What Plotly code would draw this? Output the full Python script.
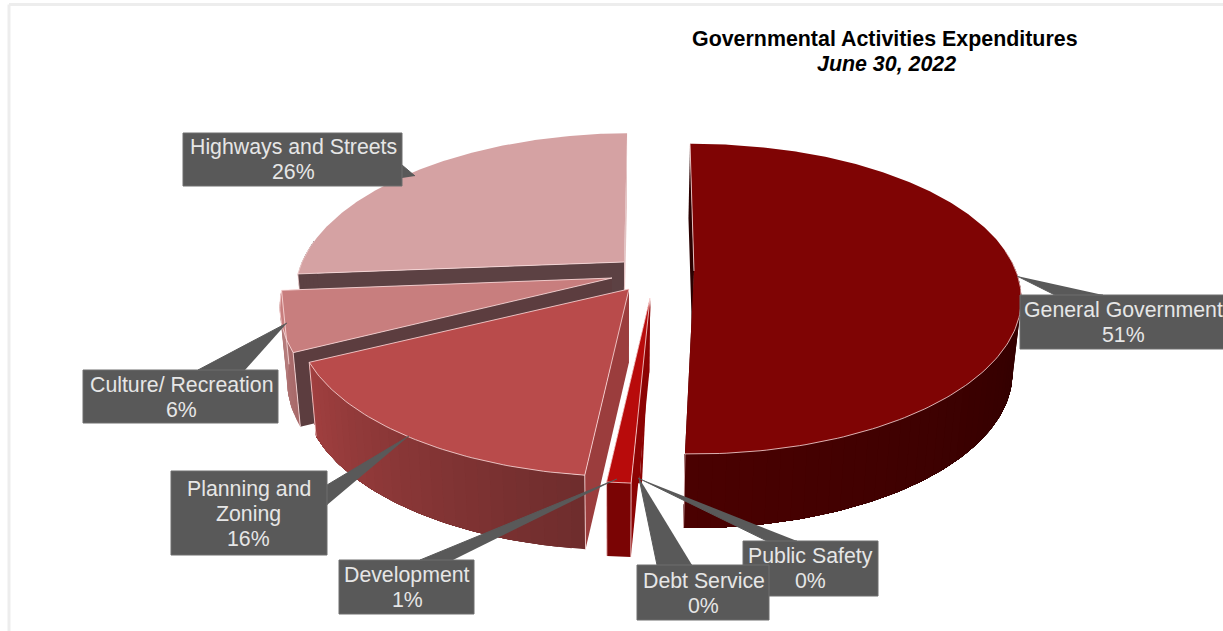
import math
import plotly.graph_objects as go

# Expenditure data, clockwise from twelve o'clock
CATEGORIES = ["General Government", "Public Safety", "Debt Service", "Development",
              "Planning and Zoning", "Culture/ Recreation", "Highways and Streets"]
SHARES = [50.6, 0.1, 0.3, 1.0, 16.0, 6.0, 26.0]
LABEL_LINES = {"Planning and Zoning": ["Planning and", "Zoning"]}

TITLE = "<b>Governmental Activities Expenditures</b>"
SUBTITLE = "<b><i>June 30, 2022</i></b>"

# Pie geometry and projection
START_ANGLE = -0.84
RADIUS_X, RADIUS_Y = 322, 152
PERSPECTIVE = 0.18
DEPTH = 74
VANISH_X, DEPTH_SHRINK = 620, 0.022
PIE_CENTER = (650, 285)

# Exploded offset of each slice from the pie centre
PULL = {
    "General Government": (44, -14),
    "Public Safety": (1, 13),
    "Debt Service": (1, 13),
    "Development": (0, 13),
    "Planning and Zoning": (-21, 4),
    "Culture/ Recreation": (-38, -7),
    "Highways and Streets": (-26, -23),
}
# Per-slice foreshortening: (x scale, y scale, horizontal shear)
WARP = {
    "General Government": (1.0, 0.987, 0.0),
    "Planning and Zoning": (1.018, 1.012, 0.0),
    "Culture/ Recreation": (1.015, 1.03, 0.0),
    "Highways and Streets": (1.0, 1.0, -0.055),
}

# Slice colours: top face, outer wall at either end of the front arc, radial walls
STYLE = {
    "General Government": dict(top="#7f0404", outer=("#2c0000", "#4a0101"), start="#2a0000", end="#4a0101"),
    "Public Safety": dict(top="#8c0303"),
    "Debt Service": dict(top="#8c0303"),
    "Development": dict(top="#b80b0b", outer=("#7a0404", "#7a0404"), start="#8c0303", end="#8c0303"),
    "Planning and Zoning": dict(top="#b94b4b", outer=("#6f2d2d", "#a03f3f"), start="#9b3d3d", end="#9b3d3d"),
    "Culture/ Recreation": dict(top="#c87e7e", outer=("#a86a6a", "#b67e7e"), start="#5c3d3f", end="#b67e7e"),
    "Highways and Streets": dict(top="#d5a2a3", outer=("#5c4143", "#5c4143"), start="#5c4143", end="#e3c3c3"),
}
EDGE = "rgba(255,226,226,0.78)"

# Callout boxes (left, top, right, bottom) and pointers (tip, base point, base point)
CALLOUTS = {
    "Highways and Streets": ((183, 133, 402, 186), ((415, 176), (402, 165), (402, 178))),
    "Culture/ Recreation": ((83, 370, 278, 423), ((287, 323), (198, 370), (245, 370))),
    "Planning and Zoning": ((171, 471, 327, 555), ((409, 436), (327, 485), (327, 505))),
    "Development": ((339, 560, 474, 614), ((617, 479), (420, 560), (453, 560))),
    "Public Safety": ((743, 541, 878, 596), ((638, 478), (767, 541), (797, 541))),
    "Debt Service": ((637, 565, 769, 620), ((639, 478), (657, 565), (692, 565))),
    "General Government": ((1020, 295, 1240, 349), ((1017, 276), (1055, 295), (1103, 295))),
}
# Horizontal centre and first text row of each callout
TEXT_ANCHOR = {
    "Highways and Streets": (293, 147),
    "Culture/ Recreation": (181, 385),
    "Planning and Zoning": (248.5, 489),
    "Development": (407, 575),
    "Public Safety": (810, 556),
    "Debt Service": (703.5, 581),
    "General Government": (1123, 310),
}
LINE_STEP = 25
CALLOUT_FILL = "#595959"
CALLOUT_EDGE = "#6e6e6e"
CALLOUT_TEXT = "#e6e6e6"
FONT = "Liberation Sans, Arial, sans-serif"
CALLOUT_SIZE = 21.3
TITLE_SIZE = 21.4

fig = go.Figure()


def poly(points, fill, edge=None, width=1):
    xs, ys = zip(*points)
    line = dict(color=edge, width=width) if edge else dict(width=0)
    fig.add_trace(go.Scatter(
        x=xs, y=ys, mode="lines", fill="toself", fillcolor=fill,
        line=line, hoverinfo="skip", showlegend=False,
    ))


def stroke(points, color=EDGE, width=1):
    xs, ys = zip(*points)
    fig.add_trace(go.Scatter(
        x=xs, y=ys, mode="lines", line=dict(color=color, width=width),
        hoverinfo="skip", showlegend=False,
    ))


def rim(name, apex, angle):
    """Projected point of the top rim of a slice at a clockwise angle in degrees."""
    sx, sy, shear = WARP.get(name, (1.0, 1.0, 0.0))
    a = math.radians(angle)
    s = 1 / (1 + PERSPECTIVE * math.cos(a))
    dx = sx * RADIUS_X * math.sin(a) * s
    dy = -sy * RADIUS_Y * math.cos(a) * s
    return (apex[0] + dx + shear * dy, apex[1] + dy)


def lower(p):
    """Same point on the underside of the disc."""
    return (VANISH_X + (p[0] - VANISH_X) * (1 - DEPTH_SHRINK), p[1] + DEPTH)


def arc(name, apex, a0, a1, step=1.0):
    n = max(2, int(abs(a1 - a0) / step) + 1)
    return [rim(name, apex, a0 + (a1 - a0) * i / (n - 1)) for i in range(n)]


def blend(c0, c1, t):
    rgb0 = [int(c0[i:i + 2], 16) for i in (1, 3, 5)]
    rgb1 = [int(c1[i:i + 2], 16) for i in (1, 3, 5)]
    return "#" + "".join(f"{round(a + (b - a) * t):02x}" for a, b in zip(rgb0, rgb1))


# Slice angle spans follow the shares
spans = {}
angle = START_ANGLE
for name, share in zip(CATEGORIES, SHARES):
    spans[name] = (angle, angle + share * 3.6)
    angle += share * 3.6


def draw_slice(name):
    a0, a1 = spans[name]
    style = STYLE[name]
    apex = (PIE_CENTER[0] + PULL[name][0], PIE_CENTER[1] + PULL[name][1])
    p0, p1 = rim(name, apex, a0), rim(name, apex, a1)
    solid = "outer" in style

    if solid:
        # Radial walls
        poly([p1, apex, lower(apex), lower(p1)], style["end"])
        poly([p0, apex, lower(apex), lower(p0)], style["start"])

    # Outer wall on the front half, layered so that each band runs to the far end
    front0, front1 = max(a0, 82), min(a1, 278)
    if solid and front1 > front0:
        strips = max(1, int((front1 - front0) / 2))
        for i in range(strips):
            s0 = front0 + (front1 - front0) * i / strips
            top = arc(name, apex, s0, front1, 1.0)
            colour = blend(style["outer"][0], style["outer"][1], i / max(1, strips - 1))
            poly(top + [lower(p) for p in reversed(top)], colour)

    # Top face
    poly([apex] + arc(name, apex, a0, a1, 0.5), style["top"])

    # Highlights along the visible edges
    if solid:
        if front1 > front0:
            stroke(arc(name, apex, front0, front1, 1.0))
        stroke([apex, p0])
        if name not in ("Highways and Streets", "General Government"):
            stroke([apex, p1])
        if 90 < a0 < 270:
            stroke([p0, lower(p0)])
        if 90 < a1 < 270:
            stroke([p1, lower(p1)])


# Rear slices first so nearer ones overlap them
for name in ["Highways and Streets", "Culture/ Recreation", "Planning and Zoning",
             "Public Safety", "Debt Service", "Development", "General Government"]:
    draw_slice(name)

# Callouts
annotations = []
for name in ["Highways and Streets", "Culture/ Recreation", "Planning and Zoning",
             "Development", "General Government", "Public Safety", "Debt Service"]:
    (left, top, right, bottom), pointer = CALLOUTS[name]
    poly(list(pointer), CALLOUT_FILL, CALLOUT_FILL)
    poly([(left, top), (right, top), (right, bottom), (left, bottom), (left, top)],
         CALLOUT_FILL, CALLOUT_EDGE)
    share = SHARES[CATEGORIES.index(name)]
    lines = LABEL_LINES.get(name, [name]) + [f"{round(share)}%"]
    cx, y0 = TEXT_ANCHOR[name]
    for i, line in enumerate(lines):
        annotations.append(dict(
            x=cx, y=y0 + i * LINE_STEP, text=line, showarrow=False,
            xanchor="center", yanchor="middle", align="center",
            font=dict(family=FONT, size=CALLOUT_SIZE, color=CALLOUT_TEXT),
        ))

annotations.append(dict(x=885, y=39, text=TITLE, showarrow=False, xanchor="center", yanchor="middle",
                        font=dict(family=FONT, size=TITLE_SIZE, color="#000000")))
annotations.append(dict(x=886, y=64, text=SUBTITLE, showarrow=False, xanchor="center", yanchor="middle",
                        font=dict(family=FONT, size=TITLE_SIZE, color="#000000")))

# Faint frame along the top and left of the chart area
frame = [
    dict(type="line", xref="x", yref="y", x0=9, x1=1223, y0=4.5, y1=4.5,
         line=dict(color="#ededed", width=3), layer="below"),
    dict(type="line", xref="x", yref="y", x0=9, x1=9, y0=4.5, y1=631,
         line=dict(color="#ededed", width=3), layer="below"),
]

fig.update_layout(
    width=1223, height=631, margin=dict(l=0, r=0, t=0, b=0),
    paper_bgcolor="#ffffff", plot_bgcolor="#ffffff", showlegend=False,
    xaxis=dict(range=[0, 1223], visible=False, fixedrange=True),
    yaxis=dict(range=[631, 0], visible=False, fixedrange=True),
    annotations=annotations, shapes=frame,
)
fig.write_html("out.html", config=dict(displayModeBar=False))
